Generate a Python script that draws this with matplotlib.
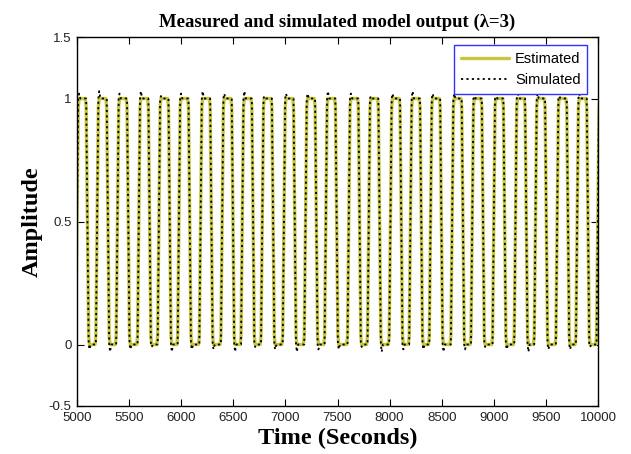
import matplotlib
matplotlib.use("Agg")
import matplotlib.pyplot as plt
import numpy as np

# ---- data ----
# mid-level crossing times (seconds) of each pulse
rise_times = [5000, 5193, 5388, 5593, 5786, 5978, 6186, 6393, 6586, 6778,
              6986, 7193, 7388, 7608, 7800, 8008, 8200, 8393, 8600, 8793,
              9000, 9208, 9400, 9608, 9800, 9998]
fall_times = [5100, 5297, 5492, 5697, 5890, 6082, 6290, 6497, 6690, 6882,
              7090, 7297, 7492, 7712, 7904, 8112, 8304, 8497, 8704, 8897,
              9104, 9312, 9504, 9712, 9904, 10102]
edge_duration = 24  # seconds for a 0->1 transition
low_level = 0.0
high_level = 1.0
corner_level = 0.035  # rounding of the estimated curve at each corner
# simulated output: small overshoots read at each pulse top / following bottom
sim_top = [1.02, 1.03, 1.02, 1.03, 1.01, 1.02, 1.03, 1.02, 1.03, 1.01,
           1.02, 1.02, 1.03, 1.02, 1.01, 1.02, 1.03, 1.02, 1.02, 1.01,
           1.02, 1.03, 1.02, 1.01, 1.02, 1.00]
sim_bottom = [-0.02, -0.03, -0.02, -0.01, -0.03, -0.02, -0.02, -0.03, -0.01, -0.02,
              -0.03, -0.02, -0.02, -0.01, -0.03, -0.02, -0.02, -0.03, -0.02, -0.01,
              -0.02, -0.03, -0.02, -0.02, -0.01, -0.02]

xticks = [5000, 5500, 6000, 6500, 7000, 7500, 8000, 8500, 9000, 9500, 10000]
yticks = [-0.25, 0, 0.5, 1, 1.25]
ytick_labels = ['-0.5', '0', '0.5', '1', '1.5']
title = 'Measured and simulated model output (\u03bb=3)'
xlabel = 'Time (Seconds)'
ylabel = 'Amplitude'
legend_labels = ['Estimated', 'Simulated']

# ---- build vertex lists ----
h = edge_duration / 2.0
c = corner_level
est_t, est_y, sim_t, sim_y = [], [], [], []
for i, (r, f) in enumerate(zip(rise_times, fall_times)):
    est_t += [r - h - 8, r - h, r + h, r + h + 8, f - h - 8, f - h, f + h, f + h + 8]
    est_y += [low_level, low_level + c, high_level - c, high_level,
              high_level, high_level - c, low_level + c, low_level]
    sim_t += [r - h, r + h, r + h + 8, r + h + 20, f - h, f + h, f + h + 8, f + h + 20]
    sim_y += [low_level, high_level, sim_top[i], high_level, high_level, low_level,
              sim_bottom[i], low_level]

plt.rcParams['font.family'] = ['Liberation Sans', 'DejaVu Sans']
fig = plt.figure(figsize=(6.31, 4.54), dpi=100)
ax = fig.add_axes([77 / 631, 1 - 406 / 454, (598 - 77) / 631, (406 - 37) / 454])

ax.plot(est_t, est_y, color='#c6c640', lw=2.4, label=legend_labels[0],
        solid_joinstyle='round', solid_capstyle='round')
ax.plot(sim_t, sim_y, color='black', lw=1.3, linestyle=(0, (1.2, 1.8)), label=legend_labels[1])

ax.set_xlim(5000, 10000)
ax.set_ylim(-0.25, 1.25)
ax.set_xticks(xticks)
ax.set_xticklabels([str(v) for v in xticks])
ax.set_yticks(yticks)
ax.set_yticklabels(ytick_labels)
ax.tick_params(direction='in', length=5, width=0.8, top=True, right=True,
               labelsize=9.5, labelcolor='#222222', pad=4)
for s in ax.spines.values():
    s.set_linewidth(1.0)

ax.set_title(title, fontsize=13.5, fontweight='bold', family=['Liberation Serif', 'DejaVu Serif'], pad=7)
ax.set_xlabel(xlabel, fontsize=17.5, fontweight='bold', family=['Liberation Serif', 'DejaVu Serif'], labelpad=3)
ax.set_ylabel(ylabel, fontsize=17.5, fontweight='bold', family=['Liberation Serif', 'DejaVu Serif'], labelpad=4)

leg = ax.legend(loc='upper right', bbox_to_anchor=(0.979, 0.978), borderaxespad=0,
                fancybox=False, edgecolor='#3030ff', framealpha=1, fontsize=10.5,
                handlelength=3.3, handletextpad=0.4, labelspacing=0.5, borderpad=0.45)
leg.get_frame().set_linewidth(1.0)

fig.savefig('out.png', dpi=100)
